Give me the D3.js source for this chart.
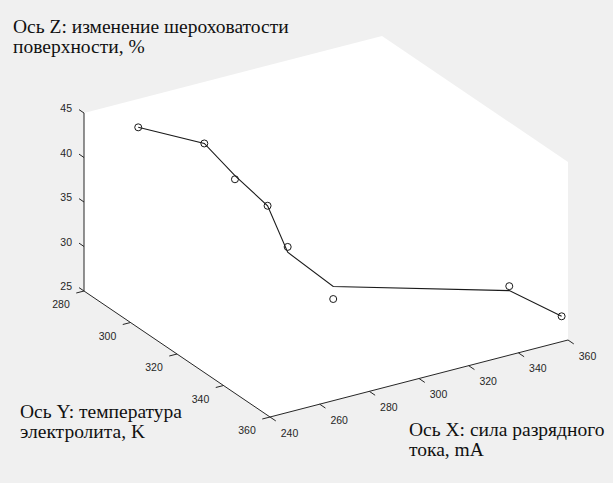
<!DOCTYPE html>
<html>
<head>
<meta charset="utf-8">
<script src="https://cdn.jsdelivr.net/npm/d3@7"></script>
<style>
  html, body { margin: 0; padding: 0; background: #f0f0f0; }
  svg { display: block; }
</style>
</head>
<body>
<svg id="chart" width="613" height="483"></svg>
<script>
// Discharge current (mA), electrolyte temperature (K), change of surface roughness (%)
const currentMA         = [255, 270, 280, 285, 290, 300, 340, 358];
const temperatureK      = [287.3, 299.7, 302.2, 310.9, 314.2, 323.1, 356.1, 359.4];
const roughnessMeasured = [43.6, 42.9, 38.6, 36.8, 32.4, 27.4, 31.8, 27.7];
const roughnessCurve    = [43.6, 42.9, 39.0, 36.8, 31.8, 28.8, 31.3, 27.7];

const xTicks = [240, 260, 280, 300, 320, 340, 360];
const yTicks = [280, 300, 320, 340, 360];
const zTicks = [25, 30, 35, 40, 45];

const zTitle = ["Ось Z: изменение шероховатости", "поверхности, %"];
const yTitle = ["Ось Y: температура", "электролита, K"];
const xTitle = ["Ось X: сила разрядного", "тока, mA"];

const svg = d3.select("#chart");
const W = 613, H = 483;

// Normalised axis scales (0..1 along each box edge)
const sx = d3.scaleLinear().domain([240, 360]).range([0, 1]);
const sy = d3.scaleLinear().domain([280, 360]).range([0, 1]);
const sz = d3.scaleLinear().domain([25, 45]).range([0, 1]);

// Screen-space edge vectors of the orthographic 3D box
const O  = [84, 291];     // (x=240, y=280, z=25)
const EX = [298, -77];
const EY = [186, 126];
const EZ = [0, -178];

function project(x, y, z) {
  const a = sx(x), b = sy(y), c = sz(z);
  return [O[0] + a * EX[0] + b * EY[0] + c * EZ[0],
          O[1] + a * EX[1] + b * EY[1] + c * EZ[1]];
}
function unit(v) { const l = Math.hypot(v[0], v[1]); return [v[0] / l, v[1] / l]; }

svg.append("rect").attr("width", W).attr("height", H).attr("fill", "#f0f0f0");

// Axes background: hull of the projected box corners
const xd = sx.domain(), yd = sy.domain(), zd = sz.domain();
const corners = [];
for (const x of xd) for (const y of yd) for (const z of zd) corners.push(project(x, y, z));
svg.append("path")
  .attr("d", "M" + d3.polygonHull(corners).join("L") + "Z")
  .attr("fill", "#ffffff");

const axisColor = "#262626";
const tickFont = "'Liberation Sans', Arial, Helvetica, sans-serif";
const gAxes = svg.append("g").attr("stroke", axisColor).attr("stroke-width", 1).attr("fill", "none");
const gLabels = svg.append("g").attr("fill", axisColor)
  .attr("font-family", tickFont).attr("font-size", "10.5px");

// Z axis (at x=240, y=280), ticks point outward along -Y
{
  const p0 = project(xd[0], yd[0], zd[0]), p1 = project(xd[0], yd[0], zd[1]);
  gAxes.append("line").attr("x1", p0[0]).attr("y1", p0[1]).attr("x2", p1[0]).attr("y2", p1[1]);
  const u = unit(EY), len = 6;
  zTicks.forEach(t => {
    const p = project(xd[0], yd[0], t);
    gAxes.append("line").attr("x1", p[0]).attr("y1", p[1])
      .attr("x2", p[0] - u[0] * len).attr("y2", p[1] - u[1] * len);
    gLabels.append("text").attr("x", p[0] - 12).attr("y", p[1] - 1)
      .attr("text-anchor", "end").text(t);
  });
}

// Y axis (at x=240, z=25), ticks point outward along -X
{
  const p0 = project(xd[0], yd[0], zd[0]), p1 = project(xd[0], yd[1], zd[0]);
  gAxes.append("line").attr("x1", p0[0]).attr("y1", p0[1]).attr("x2", p1[0]).attr("y2", p1[1]);
  const u = unit(EX), len = 8;
  yTicks.forEach(t => {
    const p = project(xd[0], t, zd[0]);
    gAxes.append("line").attr("x1", p[0]).attr("y1", p[1])
      .attr("x2", p[0] - u[0] * len).attr("y2", p[1] - u[1] * len);
    gLabels.append("text").attr("x", p[0] - 23).attr("y", p[1] + 17)
      .attr("text-anchor", "middle").text(t);
  });
}

// X axis (at y=360, z=25), ticks point outward along +Y
{
  const p0 = project(xd[0], yd[1], zd[0]), p1 = project(xd[1], yd[1], zd[0]);
  gAxes.append("line").attr("x1", p0[0]).attr("y1", p0[1]).attr("x2", p1[0]).attr("y2", p1[1]);
  const u = unit(EY), len = 7;
  xTicks.forEach(t => {
    const p = project(t, yd[1], zd[0]);
    gAxes.append("line").attr("x1", p[0]).attr("y1", p[1])
      .attr("x2", p[0] + u[0] * len).attr("y2", p[1] + u[1] * len);
    gLabels.append("text").attr("x", p[0] + 19.5).attr("y", p[1] + 19.5)
      .attr("text-anchor", "middle").text(t);
  });
}

// Curve through the points
const curvePts = currentMA.map((x, i) => project(x, temperatureK[i], roughnessCurve[i]));
svg.append("path")
  .attr("d", d3.line()(curvePts))
  .attr("fill", "none").attr("stroke", "#1a1a1a").attr("stroke-width", 1.1);

// Measured points
const pts = currentMA.map((x, i) => project(x, temperatureK[i], roughnessMeasured[i]));
svg.append("g").selectAll("circle").data(pts).join("circle")
  .attr("cx", d => d[0]).attr("cy", d => d[1]).attr("r", 3.5)
  .attr("fill", "none").attr("stroke", "#1a1a1a").attr("stroke-width", 1);

// Axis titles
const titleFont = "'Liberation Serif', 'Times New Roman', Times, serif";
function title(lines, x, y, lh) {
  const t = svg.append("text").attr("font-family", titleFont).attr("font-size", "19.5px")
    .attr("fill", "#111");
  lines.forEach((s, i) => t.append("tspan").attr("x", x).attr("y", y + i * lh).text(s));
}
title(zTitle, 13, 33, 19.5);
title(yTitle, 20, 418, 20);
title(xTitle, 409, 436, 20);
</script>
</body>
</html>
